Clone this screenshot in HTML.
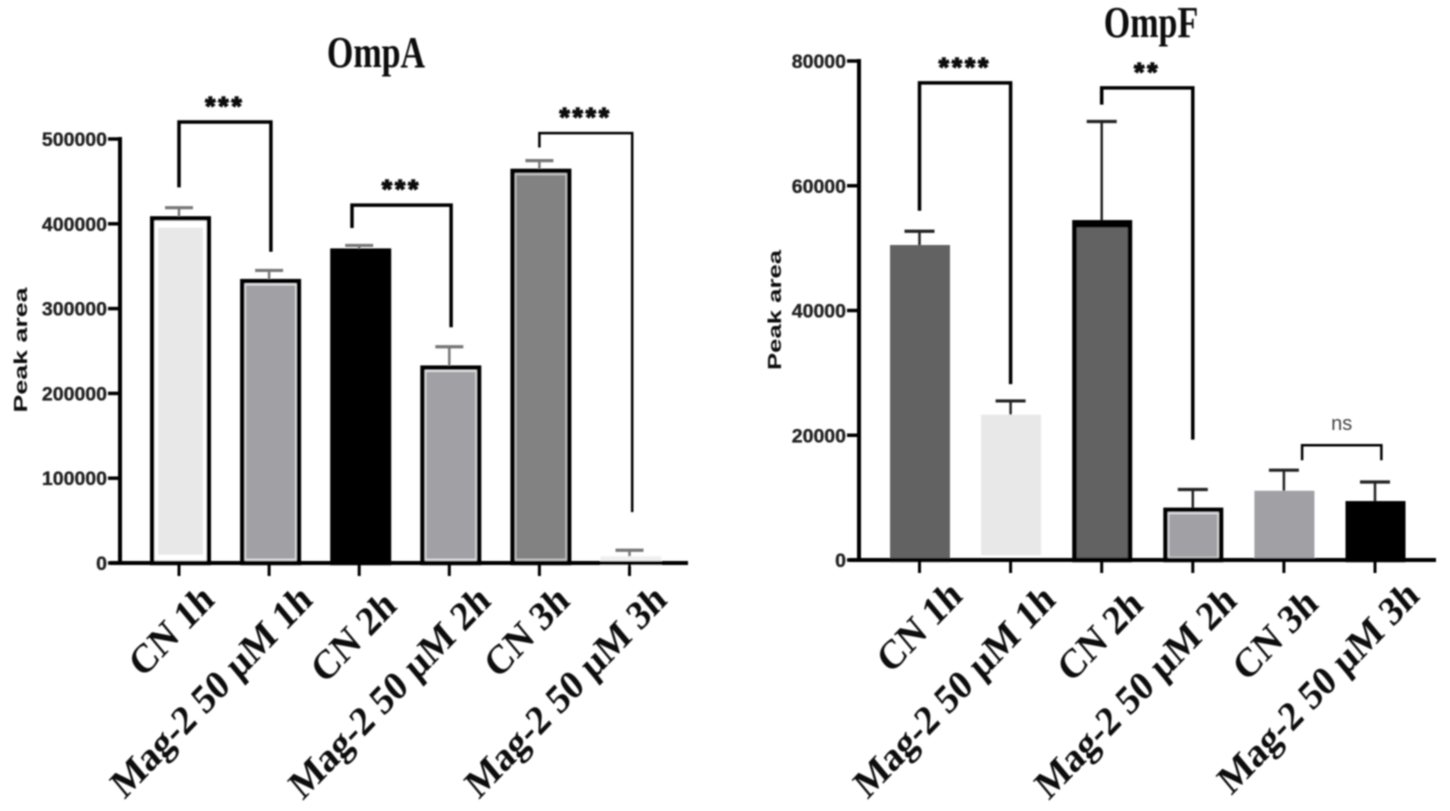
<!DOCTYPE html>
<html lang="en">
<head>
<meta charset="utf-8">
<title>OmpA and OmpF peak area</title>
<style>
html,body{margin:0;padding:0;background:#fff;width:1450px;height:811px;overflow:hidden}
svg{display:block}
.tick{font:bold 19.5px "Liberation Sans",sans-serif;fill:#222;stroke:#222;stroke-width:.35}
.ytitle{font:bold 18px "Liberation Sans",sans-serif;fill:#111}
.title{font:bold 34px "Liberation Serif",serif;fill:#111}
.cat{font:bold 36.5px "Liberation Serif",serif;fill:#111}
.star{font:bold 26px "Liberation Sans",sans-serif;fill:#111;stroke:#111;stroke-width:1.4}
.ns{font:20px "Liberation Sans",sans-serif;fill:#444}
</style>
</head>
<body>
<svg id="figure" xmlns="http://www.w3.org/2000/svg" width="1450" height="811" viewBox="0 0 1450 811">
<defs><filter id="soft" x="-5%" y="-5%" width="110%" height="110%"><feGaussianBlur stdDeviation="0.85"/></filter></defs>
<g id="root" filter="url(#soft)"></g>
</svg>
<script>
const categories = ['CN 1h', 'Mag-2 50 µM 1h', 'CN 2h', 'Mag-2 50 µM 2h', 'CN 3h', 'Mag-2 50 µM 3h'];

const ompaValues = [409000, 335000, 371000, 233000, 465000, 8000];
const ompaErrors = [10000, 10000, 3500, 22000, 9500, 7000];
const ompaTicks = [0, 100000, 200000, 300000, 400000, 500000];
const ompaBracketFrom = [0, 1.92, 4];
const ompaBracketTo = [1.02, 3.02, 5.03];
const ompaBracketTop = [520000, 422000, 507000];
const ompaBracketLeftEnd = [443000, 395000, 490000];
const ompaBracketRightEnd = [367000, 278000, 60000];
const ompaBracketLabels = ['***', '***', '****'];

const ompfValues = [50500, 23300, 54500, 8400, 11100, 9450];
const ompfErrors = [2200, 2200, 15800, 2900, 3300, 3050];
const ompfTicks = [0, 20000, 40000, 60000, 80000];
const ompfBracketFrom = [0, 2, 4.2];
const ompfBracketTo = [1, 3, 5.07];
const ompfBracketTop = [76500, 75700, 18400];
const ompfBracketLeftEnd = [56000, 73000, 16000];
const ompfBracketRightEnd = [28200, 19300, 16000];
const ompfBracketLabels = ['****', '**', 'ns'];

const root = document.getElementById('root');
const NS = 'http://www.w3.org/2000/svg';

function make(parent, tag, attrs, text) {
  const el = document.createElementNS(NS, tag);
  for (const k in attrs) el.setAttribute(k, attrs[k]);
  if (text !== undefined) el.textContent = text;
  parent.appendChild(el);
  return el;
}

function drawChart(cfg) {
  const y = v => cfg.y0 - (v / cfg.yMax) * (cfg.y0 - cfg.yTop);
  const x = i => cfg.x0 + i * cfg.step;

  const g = make(root, 'g', {});
  
  

  const title = make(g, 'text', { class: 'title', 'text-anchor': 'middle', transform: `translate(${cfg.titleX},${cfg.titleY}) scale(1,1.3)` }, cfg.title);
  
  

  const yTitle = make(g, 'text', { class: 'ytitle', 'text-anchor': 'middle', textLength: cfg.yTitleLen, lengthAdjust: 'spacingAndGlyphs', transform: `translate(${cfg.yTitleX},${cfg.yTitleY}) rotate(-90)` }, 'Peak area');
  
  

  cfg.values.forEach((v, i) => {
    const cx = x(i) + cfg.barShift;
    const top = y(v);
    const w = cfg.barW;
    const sw = cfg.strokeW;
    const s = cfg.looks[i];
    const bottom = cfg.y0 - s.lift;
    const bar = make(g, 'rect', {
      x: cx - w / 2 + sw / 2, y: top + sw / 2,
      width: w - sw, height: Math.max(bottom - top - sw / 2, 1),
      fill: s.under, stroke: s.stroke, 'stroke-width': sw
    });
    
    

    const innerH = bottom - sw / 2 - s.gapBottom - (top + sw + s.gapTop);
    if (innerH > 0) {
      const fill = make(g, 'rect', {
        x: cx - w / 2 + sw + s.gapSide, y: top + sw + s.gapTop,
        width: w - 2 * sw - 2 * s.gapSide, height: innerH, fill: s.fill
      });
      
      
    }

    const errTop = y(v + cfg.errors[i]);
    const stem = make(g, 'line', { x1: x(i), x2: x(i), y1: top, y2: errTop, stroke: cfg.errColor, 'stroke-width': cfg.errW });
    
    

    const cap = make(g, 'line', { x1: x(i) - cfg.capW, x2: x(i) + cfg.capW, y1: errTop, y2: errTop, stroke: cfg.errColor, 'stroke-width': cfg.errW + 0.7 });
    
    
  });

  const yAxis = make(g, 'line', { x1: cfg.axisX, x2: cfg.axisX, y1: y(cfg.yMax) - 2, y2: cfg.y0 + 2, stroke: '#000', 'stroke-width': 4 });
  
  

  const xAxis = make(g, 'line', { x1: cfg.axisX - 10, x2: cfg.axisEnd, y1: cfg.y0, y2: cfg.y0, stroke: '#000', 'stroke-width': 4 });
  
  

  cfg.ticks.forEach(t => {
    const mark = make(g, 'line', { x1: cfg.axisX - 12, x2: cfg.axisX, y1: y(t), y2: y(t), stroke: '#000', 'stroke-width': 3.5 });
    
    

    const label = make(g, 'text', { class: 'tick', x: cfg.axisX - 13, y: y(t) + 7, 'text-anchor': 'end' }, String(t));
    
    
  });

  categories.forEach((c, i) => {
    const mark = make(g, 'line', { x1: x(i), x2: x(i), y1: cfg.y0, y2: cfg.y0 + 13, stroke: '#000', 'stroke-width': 3 });
    
    

    const label = make(g, 'text', { class: 'cat', 'text-anchor': 'end', transform: `translate(${x(i) + cfg.labelOffsets[i][0]},${cfg.labelOffsets[i][1]}) scale(1,1.12) rotate(-43)` }, c);
    
    
  });

  cfg.brFrom.forEach((f, i) => {
    const xa = x(f), xb = x(cfg.brTo[i]);
    const topY = y(cfg.brTop[i]);
    const isNs = cfg.brLabels[i] === 'ns';
    const path = make(g, 'path', {
      d: `M${xa} ${y(cfg.brLeft[i])}V${topY}H${xb}V${y(cfg.brRight[i])}`,
      fill: 'none', stroke: '#000', 'stroke-width': cfg.brW[i]
    });
    
    

    const mid = (xa + xb) / 2;
    const lab = make(g, 'text', {
      class: isNs ? 'ns' : 'star', x: mid, y: isNs ? topY - 15 : topY - 7,
      'text-anchor': 'middle', 'letter-spacing': isNs ? 0 : 3
    }, cfg.brLabels[i]);
    
    
  });
}

drawChart({
  name: 'ompa', title: 'OmpA', titleX: 376, titleY: 67,
  values: ompaValues, errors: ompaErrors, ticks: ompaTicks,
  looks: [
    { fill: '#e8e8e8', under: '#fff', stroke: '#000', gapSide: 3.5, gapTop: 7, gapBottom: 6, lift: 0 },
    { fill: '#a0a0a5', under: '#e4e4e6', stroke: '#000', gapSide: 1.5, gapTop: 2, gapBottom: 2, lift: 0 },
    { fill: '#000', under: '#000', stroke: '#000', gapSide: 0, gapTop: 0, gapBottom: 0, lift: 0 },
    { fill: '#a0a0a5', under: '#e4e4e6', stroke: '#000', gapSide: 1.5, gapTop: 2, gapBottom: 2, lift: 0 },
    { fill: '#828282', under: '#c8c8c8', stroke: '#000', gapSide: 1.5, gapTop: 2, gapBottom: 2, lift: 0 },
    { fill: '#ececec', under: '#f0f0f0', stroke: '#f0f0f0', gapSide: 0, gapTop: 0, gapBottom: 0, lift: 0 }
  ],
  brFrom: ompaBracketFrom, brTo: ompaBracketTo, brTop: ompaBracketTop, brLeft: ompaBracketLeftEnd, brRight: ompaBracketRightEnd, brLabels: ompaBracketLabels,
  brW: [3.5, 3.5, 2.5],
  y0: 563, yTop: 139, yMax: 500000, x0: 179, step: 90.1, barShift: 1.5, barW: 61, strokeW: 4.5,
  axisX: 120, axisEnd: 688, yTitleX: 27, yTitleY: 350, yTitleLen: 125,
  capW: 14, errW: 2.5, errColor: '#777',
  labelOffsets: [[37, 602], [45, 602], [39, 608], [43, 603], [32, 603], [39, 602]]
});

drawChart({
  name: 'ompf', title: 'OmpF', titleX: 1151, titleY: 37,
  values: ompfValues, errors: ompfErrors, ticks: ompfTicks,
  looks: [
    { fill: '#626262', under: '#626262', stroke: '#626262', gapSide: 0, gapTop: 0, gapBottom: 0, lift: 0 },
    { fill: '#e8e8e8', under: '#e8e8e8', stroke: '#e8e8e8', gapSide: 0, gapTop: 0, gapBottom: 0, lift: 7 },
    { fill: '#626262', under: '#000', stroke: '#000', gapSide: 0, gapTop: 3, gapBottom: 0, lift: 0 },
    { fill: '#a0a0a5', under: '#e4e4e6', stroke: '#000', gapSide: 1.5, gapTop: 2, gapBottom: 1, lift: 0 },
    { fill: '#a0a0a5', under: '#a0a0a5', stroke: '#a0a0a5', gapSide: 0, gapTop: 0, gapBottom: 0, lift: 4 },
    { fill: '#000', under: '#000', stroke: '#000', gapSide: 0, gapTop: 0, gapBottom: 0, lift: 0 }
  ],
  brFrom: ompfBracketFrom, brTo: ompfBracketTo, brTop: ompfBracketTop, brLeft: ompfBracketLeftEnd, brRight: ompfBracketRightEnd, brLabels: ompfBracketLabels,
  brW: [3.5, 3.5, 2.5],
  y0: 560, yTop: 61, yMax: 80000, x0: 919.5, step: 91.1, barShift: 0.5, barW: 60, strokeW: 4.5,
  axisX: 859, axisEnd: 1436, yTitleX: 781, yTitleY: 310, yTitleLen: 120,
  capW: 15, errW: 2.5, errColor: '#222',
  labelOffsets: [[44.5, 598], [46.5, 602], [43, 607], [45.5, 603], [36, 606], [46, 598]]
});
</script>
</body>
</html>
